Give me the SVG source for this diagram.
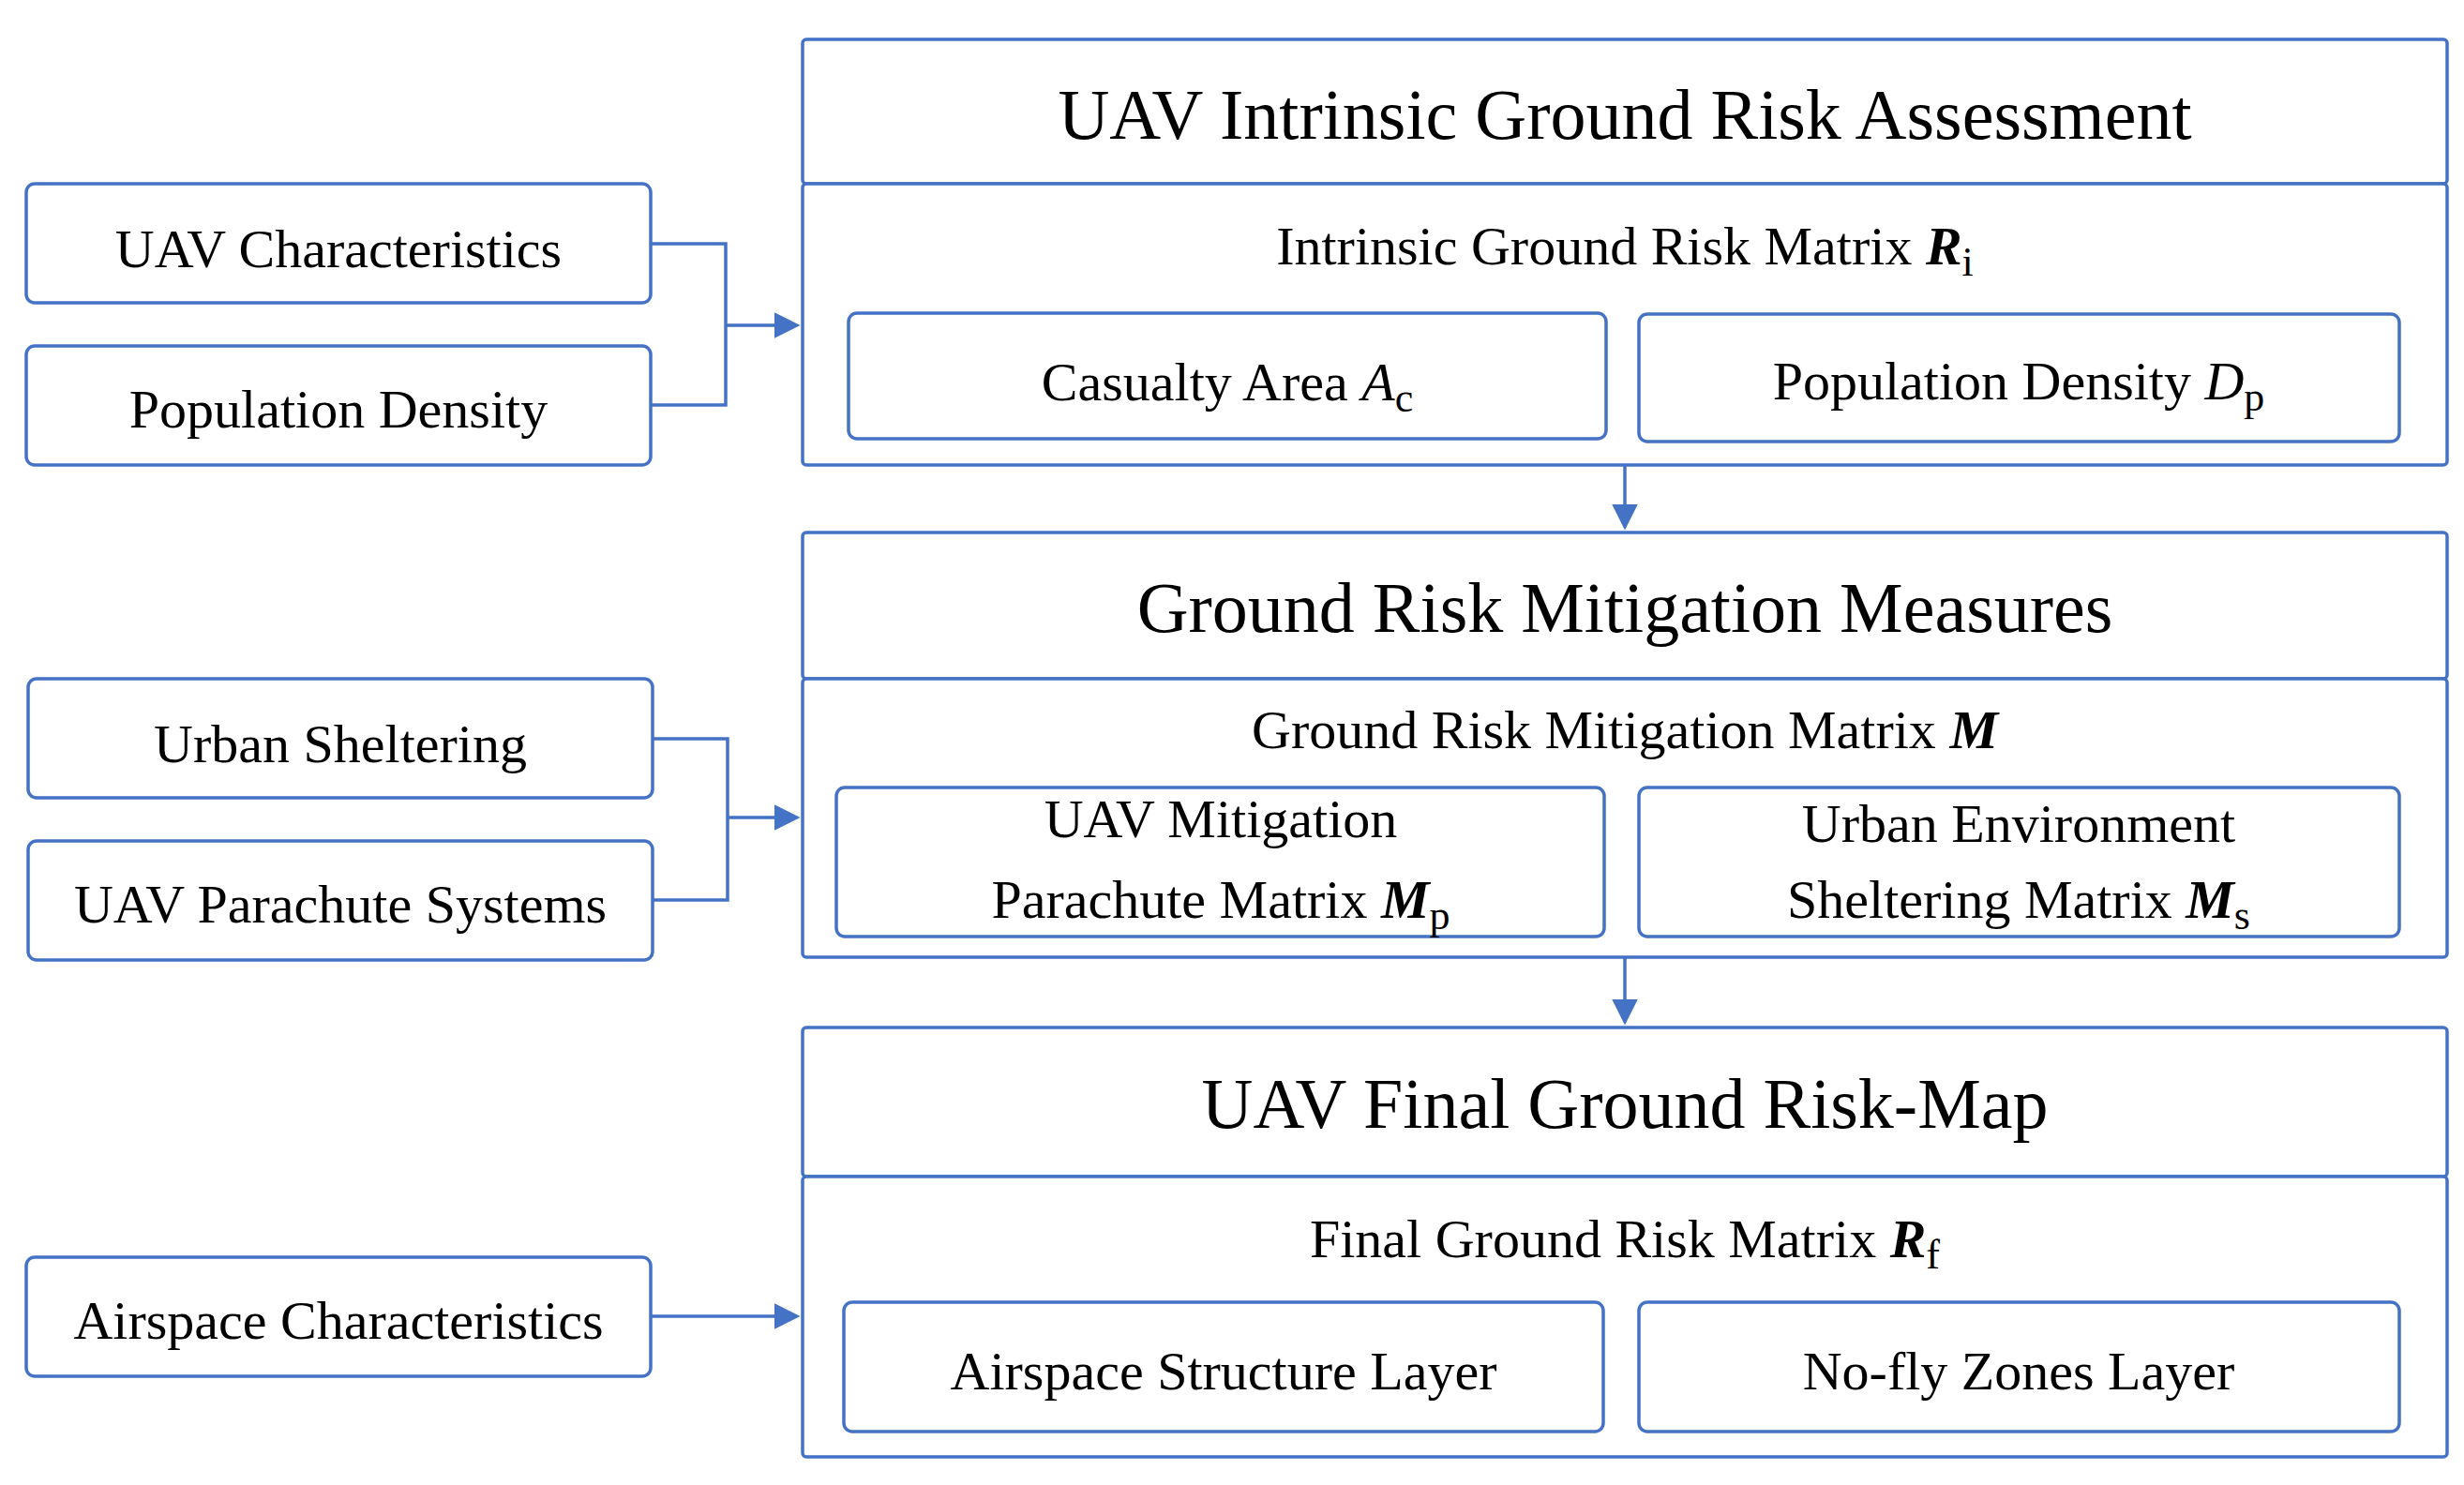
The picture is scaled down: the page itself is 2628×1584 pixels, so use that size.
<svg xmlns="http://www.w3.org/2000/svg" width="2628" height="1584" viewBox="0 0 2628 1584">
<style>
.b{fill:#fff;stroke:#4472C4;stroke-width:3.5}
.c{fill:none;stroke:#4472C4;stroke-width:3.5}
text{font-family:"Liberation Serif","Times New Roman",serif;fill:#000;text-anchor:middle}
.t{font-size:76px}
.s{font-size:58px}
.m{font-weight:bold;font-style:italic}
.i{font-style:italic}
.sub{font-size:44px}
</style>
<defs><marker id="a" markerWidth="8" markerHeight="8" refX="7" refY="4" orient="auto" markerUnits="strokeWidth"><path d="M0,0L8,4L0,8z" fill="#4472C4"/></marker></defs>
<rect width="2628" height="1584" fill="#fff"/>
<g id="connectors">
<path class="c" d="M694,260H774V432H694M774,347H850" marker-end="url(#a)"/>
<path class="c" d="M696,788H776V960H696M776,872H850" marker-end="url(#a)"/>
<path class="c" d="M694,1404H850" marker-end="url(#a)"/>
<path class="c" d="M1733,496V562" marker-end="url(#a)"/>
<path class="c" d="M1733,1021V1090" marker-end="url(#a)"/>
</g>
<g id="uav-char"><rect class="b" x="28" y="196" width="666" height="127" rx="9"/><text class="s" x="361" y="285">UAV Characteristics</text></g>
<g id="pop-density"><rect class="b" x="28" y="369" width="666" height="127" rx="9"/><text class="s" x="361" y="456">Population  Density</text></g>
<g id="urban-sheltering"><rect class="b" x="30" y="724" width="666" height="127" rx="9"/><text class="s" x="363" y="813">Urban  Sheltering</text></g>
<g id="parachute"><rect class="b" x="30" y="897" width="666" height="127" rx="9"/><text class="s" x="363" y="984">UAV  Parachute  Systems</text></g>
<g id="airspace"><rect class="b" x="28" y="1341" width="666" height="127" rx="9"/><text class="s" x="361" y="1428">Airspace  Characteristics</text></g>
<g id="box1">
<rect class="b" x="856" y="42" width="1754" height="154" rx="4"/>
<text class="t" x="1733" y="148">UAV  Intrinsic Ground Risk Assessment</text>
<rect class="b" x="856" y="196" width="1754" height="300" rx="4"/>
<text class="s" x="1733" y="282">Intrinsic  Ground  Risk  Matrix <tspan class="m">R</tspan><tspan class="sub" dy="12">i</tspan></text>
<rect class="b" x="905" y="334" width="808" height="134" rx="9"/>
<text class="s" x="1309" y="427">Casualty  Area <tspan class="i">A</tspan><tspan class="sub" dy="12">c</tspan></text>
<rect class="b" x="1748" y="335" width="811" height="136" rx="9"/>
<text class="s" x="2153" y="426">Population  Density <tspan class="i">D</tspan><tspan class="sub" dy="12">p</tspan></text>
</g>
<g id="box2">
<rect class="b" x="856" y="568" width="1754" height="156" rx="4"/>
<text class="t" x="1733" y="674">Ground Risk Mitigation Measures</text>
<rect class="b" x="856" y="724" width="1754" height="297" rx="4"/>
<text class="s" x="1733" y="798">Ground  Risk  Mitigation  Matrix <tspan class="m">M</tspan></text>
<rect class="b" x="892" y="840" width="819" height="159" rx="9"/>
<text class="s" x="1302" y="893">UAV  Mitigation</text>
<text class="s" x="1302" y="979">Parachute  Matrix <tspan class="m">M</tspan><tspan class="sub" dy="12">p</tspan></text>
<rect class="b" x="1748" y="840" width="811" height="159" rx="9"/>
<text class="s" x="2153" y="898">Urban   Environment</text>
<text class="s" x="2153" y="979">Sheltering  Matrix <tspan class="m">M</tspan><tspan class="sub" dy="12">s</tspan></text>
</g>
<g id="box3">
<rect class="b" x="856" y="1096" width="1754" height="159" rx="4"/>
<text class="t" x="1733" y="1203">UAV Final Ground Risk-Map</text>
<rect class="b" x="856" y="1255" width="1754" height="299" rx="4"/>
<text class="s" x="1733" y="1341">Final  Ground  Risk  Matrix <tspan class="m">R</tspan><tspan class="sub" dy="12">f</tspan></text>
<rect class="b" x="900" y="1389" width="810" height="138" rx="9"/>
<text class="s" x="1305" y="1482">Airspace  Structure  Layer</text>
<rect class="b" x="1748" y="1389" width="811" height="138" rx="9"/>
<text class="s" x="2153" y="1482">No-fly  Zones  Layer</text>
</g>
</svg>
